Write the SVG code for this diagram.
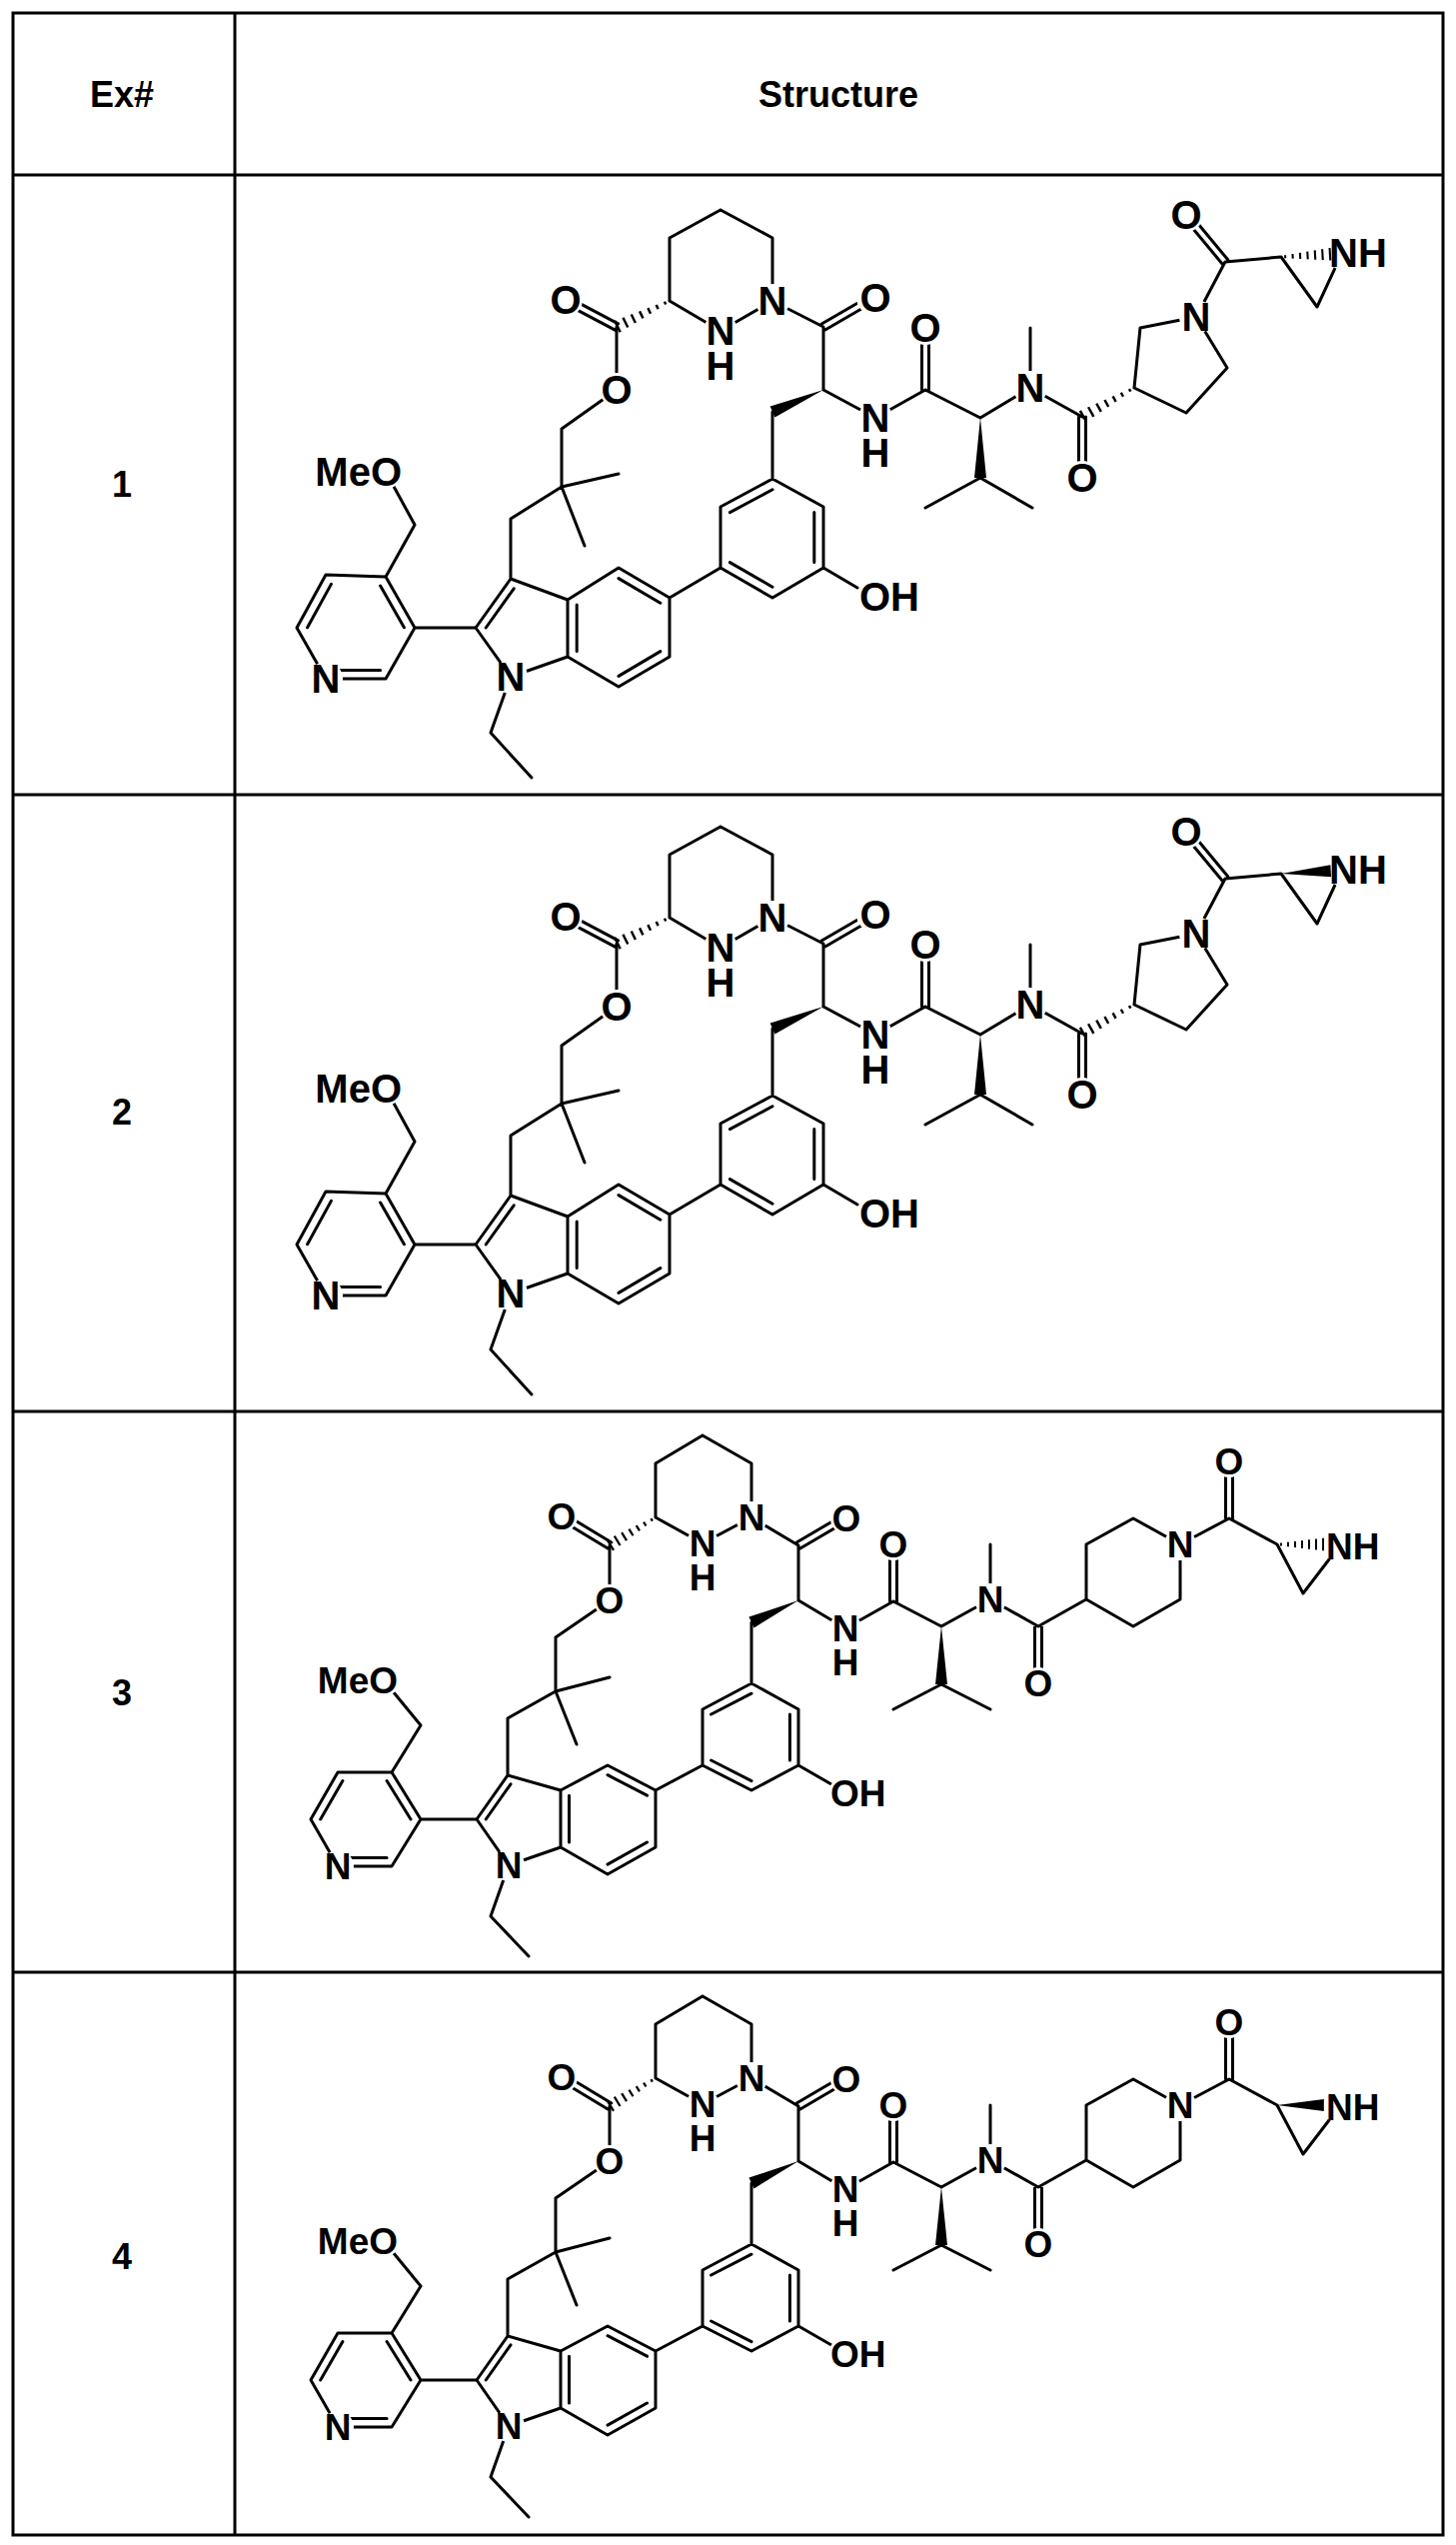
<svg xmlns="http://www.w3.org/2000/svg" xmlns:xlink="http://www.w3.org/1999/xlink" width="1457" height="2546" viewBox="0 0 1457 2546">
<style>
.tb{stroke:#000;stroke-width:3;fill:none}
.b{stroke:#000;stroke-width:3;fill:none;stroke-linecap:round;stroke-linejoin:round}
.h{font-family:"Liberation Sans",Arial,sans-serif;font-weight:bold;font-size:36px;fill:#000;text-anchor:middle}
.p1{font-family:"Liberation Sans",Arial,sans-serif;font-weight:bold;font-size:40px;text-anchor:middle;fill:#000}
.p3{font-family:"Liberation Sans",Arial,sans-serif;font-weight:bold;font-size:37px;text-anchor:middle;fill:#000}
.e{text-anchor:end}
.st{text-anchor:start}
.m{fill:#fff}
</style>
<defs>
<g id="hash" stroke="#000" stroke-width="2.5">
<line x1="5" y1="-1.5" x2="5" y2="1.5"/><line x1="14" y1="-2.3" x2="14" y2="2.3"/><line x1="23" y1="-3.1" x2="23" y2="3.1"/><line x1="32" y1="-3.9" x2="32" y2="3.9"/><line x1="41" y1="-4.7" x2="41" y2="4.7"/><line x1="50" y1="-5.5" x2="50" y2="5.5"/><line x1="59" y1="-6.3" x2="59" y2="6.3"/>
</g>
<polygon id="wedge" points="0,0 60,-6 60,6" fill="#000"/>
<g id="mol1">
<path class="b" d="M721,210 L670,238 L670,301 M721,210 L773,238 L773,301 L721,331 L670,301
M618.6,323.9 L567.6,296.9 M615.4,330.1 L564.4,303.1
M617,327 L617,390 L562,429 L562,487 L619,474 M562,487 L585,546 M562,487 L511,519 L511,579 L476,628 L511,677 L568,657 L568,600 L511,579
M568,600 L619,568 L670,598 L670,657 L619,687 L568,657
M619,578.6 L660.8,603.2 M660.8,651.6 L619,676.4 M577.2,651.6 L577.2,604.9 M514.2,588.8 L486.2,628
M511,677 L491,733 L532,778
M476,628 L415,628 L386,577 L326,575 L297,628 L326,679 L386,679 L415,628
M404.4,627.8 L380.6,586 M331.4,584.4 L307.6,627.8 M331.4,670.4 L380.6,670.4
M386,577 L415,525 L386,472
M670,598 L721,568 L721,507 L773,479 L824,507 L824,568 L773,598 L721,568
M730.4,512.6 L773,489.8 M814.8,512.6 L814.8,562.6 M773,587.2 L730.4,562.6
M773,479 L773,412 M824,568 L858,588
M824,390 L824,327 L773,301 M822.25,324 L872.25,295 M825.75,330 L875.75,301
M824,390 L876,418 L926,390 M922.5,390 L922.5,328 M929.5,390 L929.5,328
M926,390 L981,418 L1031,388 L1031,328 M1031,388 L1083,417 M926,508 L981,478 L1033,508
M1079.5,417 L1079.5,478 M1086.5,417 L1086.5,478
M1135,388 L1141,328 L1197,317 L1228,368 L1187,413 L1135,388
M1197,317 L1226,262 L1282,257 L1318,307 L1343,253
M1228.7,259.8 L1189.7,212.8 M1223.3,264.2 L1184.3,217.2"/>
<use xlink:href="#hash" href="#hash" transform="translate(670,301) rotate(153.9) scale(0.983,1)"/>
<use xlink:href="#hash" href="#hash" transform="translate(1135,388) rotate(150.9) scale(0.99,1)"/>
<use xlink:href="#wedge" href="#wedge" transform="translate(824,390) rotate(156.7) scale(0.925,1)"/>
<use xlink:href="#wedge" href="#wedge" transform="translate(981,418) rotate(90)"/>
<g class="m">
<circle cx="566" cy="300" r="17"/><circle cx="773" cy="301" r="17"/><circle cx="721" cy="331" r="17"/><circle cx="617" cy="390" r="17"/><circle cx="511" cy="677" r="17"/><circle cx="326" cy="679" r="17"/><circle cx="386" cy="472" r="17"/><circle cx="875" cy="597" r="17"/><circle cx="874" cy="298" r="17"/><circle cx="876" cy="418" r="17"/><circle cx="926" cy="328" r="17"/><circle cx="1031" cy="388" r="17"/><circle cx="1083" cy="478" r="17"/><circle cx="1197" cy="317" r="17"/><circle cx="1187" cy="215" r="17"/><circle cx="1344" cy="253" r="17"/>
</g>
</g>
<g id="mol3">
<path class="b" d="M703,1436 L656,1464 L656,1518 L703,1544 L752,1518 L752,1464 L703,1436
M611.8,1543 L563.8,1514 M608.2,1549 L560.2,1520
M610,1546 L610,1601 L556,1638 L556,1692 L610,1678 M556,1692 L577,1745 M556,1692 L508,1719 L508,1776 L477,1820 L509,1866 L561,1848 L561,1791 L508,1776
M561,1791 L608,1766 L656,1791 L656,1848 L608,1875 L561,1848
M608,1775.7 L647.5,1796.2 M647.5,1843 L608,1865.1 M569.5,1843 L569.5,1796.2 M511,1784.8 L486.2,1820
M509,1866 L491,1917 L529,1957
M477,1820 L421,1820 L392,1773 L338,1773 L311,1820 L338,1867 L392,1867 L421,1820
M411,1820 L387.1,1781.5 M342.9,1781.5 L320.7,1820 M342.9,1858.5 L387.1,1858.5
M392,1773 L421,1726 L384,1681
M656,1791 L703,1766 L703,1710 L752,1684 L799,1710 L799,1766 L752,1791 L703,1766
M711.6,1715 L752,1694.2 M790.4,1715 L790.4,1761 M752,1781.6 L711.6,1761
M752,1684 L752,1623 M799,1766 L832,1785
M799,1601 L799,1546 L752,1518 M797.2,1543 L843.2,1516 M800.8,1549 L846.8,1522
M799,1601 L846,1629 L894,1602 M890.5,1602 L890.5,1545 M897.5,1602 L897.5,1545
M894,1602 L942,1627 L991,1600 L991,1545 M991,1600 L1039,1627 L1087,1600 M894,1710 L942,1685 L991,1710
M1035.5,1627 L1035.5,1684 M1042.5,1627 L1042.5,1684
M1087,1600 L1087,1545 L1134,1519 L1181,1545 L1181,1600 L1134,1627 L1087,1600
M1181,1545 L1230,1519 L1278,1545 L1304,1594 L1340,1547
M1226.5,1519 L1226.5,1462 M1233.5,1519 L1233.5,1462"/>
<use xlink:href="#hash" href="#hash" transform="translate(656,1518) rotate(148.7) scale(0.897,1)"/>
<use xlink:href="#wedge" href="#wedge" transform="translate(799,1601) rotate(154.9) scale(0.865,1)"/>
<use xlink:href="#wedge" href="#wedge" transform="translate(942,1627) rotate(90) scale(0.967,1)"/>
<g class="m">
<circle cx="562" cy="1517" r="16"/><circle cx="752" cy="1518" r="16"/><circle cx="703" cy="1544" r="16"/><circle cx="610" cy="1601" r="16"/><circle cx="509" cy="1866" r="16"/><circle cx="338" cy="1867" r="16"/><circle cx="384" cy="1681" r="16"/><circle cx="845" cy="1794" r="16"/><circle cx="847" cy="1519" r="16"/><circle cx="846" cy="1629" r="16"/><circle cx="894" cy="1545" r="16"/><circle cx="991" cy="1600" r="16"/><circle cx="1039" cy="1684" r="16"/><circle cx="1181" cy="1545" r="16"/><circle cx="1230" cy="1462" r="16"/><circle cx="1340" cy="1547" r="16"/>
</g>
</g>
</defs>
<rect x="0" y="0" width="1457" height="2546" fill="#fff"/>
<g id="table">
<rect class="tb" x="13" y="13" width="1431" height="2523"/>
<line class="tb" x1="235" y1="13" x2="235" y2="2536"/>
<line class="tb" x1="13" y1="175" x2="1444" y2="175"/>
<line class="tb" x1="13" y1="795" x2="1444" y2="795"/>
<line class="tb" x1="13" y1="1412" x2="1444" y2="1412"/>
<line class="tb" x1="13" y1="1973" x2="1444" y2="1973"/>
<text class="h" x="122" y="107">Ex#</text>
<text class="h" x="839" y="107">Structure</text>
<text class="h" x="122" y="497">1</text>
<text class="h" x="122" y="1125">2</text>
<text class="h" x="122" y="1706">3</text>
<text class="h" x="122" y="2270">4</text>
</g>
<g id="ex1">
<use xlink:href="#mol1" href="#mol1"/>
<use xlink:href="#hash" href="#hash" transform="translate(1282,257) rotate(-3.2) scale(0.83,1)"/>
<g class="p1">
<text x="566" y="314">O</text><text x="773" y="315">N</text><text x="721" y="345">N</text><text x="721" y="380">H</text><text x="617" y="404">O</text><text x="511" y="691">N</text><text x="326" y="693">N</text><text class="e" x="402" y="486">MeO</text><text class="st" x="860" y="611">OH</text><text x="876" y="312">O</text><text x="876" y="432">N</text><text x="876" y="467">H</text><text x="926" y="342">O</text><text x="1031" y="402">N</text><text x="1083" y="492">O</text><text x="1197" y="331">N</text><text x="1187" y="229">O</text><text class="st" x="1330" y="267">NH</text>
</g>
</g>
<g id="ex2" transform="translate(0,617)">
<use xlink:href="#mol1" href="#mol1"/>
<use xlink:href="#wedge" href="#wedge" transform="translate(1282,257) rotate(-3.2) scale(0.83,1)"/>
<g class="p1">
<text x="566" y="314">O</text><text x="773" y="315">N</text><text x="721" y="345">N</text><text x="721" y="380">H</text><text x="617" y="404">O</text><text x="511" y="691">N</text><text x="326" y="693">N</text><text class="e" x="402" y="486">MeO</text><text class="st" x="860" y="611">OH</text><text x="876" y="312">O</text><text x="876" y="432">N</text><text x="876" y="467">H</text><text x="926" y="342">O</text><text x="1031" y="402">N</text><text x="1083" y="492">O</text><text x="1197" y="331">N</text><text x="1187" y="229">O</text><text class="st" x="1330" y="267">NH</text>
</g>
</g>
<g id="ex3">
<use xlink:href="#mol3" href="#mol3"/>
<use xlink:href="#hash" href="#hash" transform="translate(1278,1545) rotate(0) scale(0.78,1)"/>
<g class="p3">
<text x="562" y="1530">O</text><text x="752" y="1531">N</text><text x="703" y="1557">N</text><text x="703" y="1591">H</text><text x="610" y="1614">O</text><text x="509" y="1879">N</text><text x="338" y="1880">N</text><text class="e" x="398" y="1694">MeO</text><text class="st" x="831" y="1807">OH</text><text x="847" y="1532">O</text><text x="846" y="1642">N</text><text x="846" y="1676">H</text><text x="894" y="1558">O</text><text x="991" y="1613">N</text><text x="1039" y="1697">O</text><text x="1181" y="1558">N</text><text x="1230" y="1475">O</text><text class="st" x="1327" y="1560">NH</text>
</g>
</g>
<g id="ex4" transform="translate(0,561)">
<use xlink:href="#mol3" href="#mol3"/>
<use xlink:href="#wedge" href="#wedge" transform="translate(1278,1545) rotate(0) scale(0.78,1)"/>
<g class="p3">
<text x="562" y="1530">O</text><text x="752" y="1531">N</text><text x="703" y="1557">N</text><text x="703" y="1591">H</text><text x="610" y="1614">O</text><text x="509" y="1879">N</text><text x="338" y="1880">N</text><text class="e" x="398" y="1694">MeO</text><text class="st" x="831" y="1807">OH</text><text x="847" y="1532">O</text><text x="846" y="1642">N</text><text x="846" y="1676">H</text><text x="894" y="1558">O</text><text x="991" y="1613">N</text><text x="1039" y="1697">O</text><text x="1181" y="1558">N</text><text x="1230" y="1475">O</text><text class="st" x="1327" y="1560">NH</text>
</g>
</g>
</svg>
